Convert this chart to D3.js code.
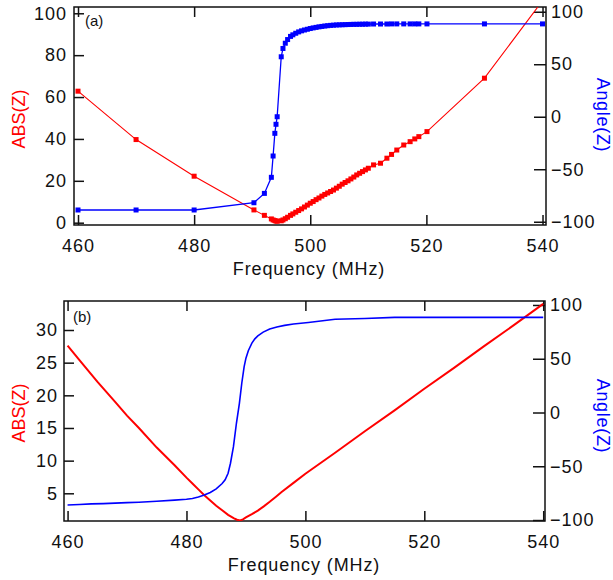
<!DOCTYPE html>
<html>
<head>
<meta charset="utf-8">
<script src="https://cdn.jsdelivr.net/npm/d3@7"></script>
<style>
  html, body { margin: 0; padding: 0; background: #fff; }
  svg { display: block; }
  text { font-family: "Liberation Sans", Arial, sans-serif; }
</style>
</head>
<body>
<svg id="chart" width="613" height="580"></svg>
<script>
// ---------- Panel (a): measured points ----------
const freqA = [460, 470, 480, 490.3, 492.1, 493.3, 493.6, 493.9, 494.1, 494.3,
  495.0, 495.3, 495.7, 496.1, 496.6, 497.0, 497.5,
  498.0, 498.5, 499.0, 499.5, 500.0, 500.5, 501.0, 501.5, 502.0, 502.5, 503.0, 503.5,
  504.0, 504.5, 505.0, 505.5, 506.0, 506.5, 507.0, 507.5, 508.0, 508.5, 509.0, 509.5, 510.0,
  510.9, 512.1, 513.2, 514.0, 514.9, 516.1, 517.2, 518.0, 518.7, 520.1, 530.0, 540.0];
const absA = [62.8, 39.7, 22.2, 6.1, 3.5, 1.8, 1.3, 1.0, 0.8, 0.7,
  0.9, 1.3, 1.9, 2.6, 3.5, 4.2, 5.0,
  5.8, 6.6, 7.5, 8.4, 9.3, 10.1, 11.0, 11.8, 12.7, 13.5, 14.2, 14.9,
  15.6, 16.5, 17.4, 18.4, 19.2, 20.0, 20.9, 21.8, 22.8, 23.6, 24.4, 25.2, 26.0,
  27.6, 28.4, 30.8, 32.6, 34.7, 37.1, 38.7, 40.0, 41.1, 43.5, 69.0, 106.0];
const angA = [-88.8, -88.8, -88.8, -81.9, -73.0, -57.7, -37.4, -15.8, -7.2, 0.0,
  57.1, 65.0, 70.0, 73.5, 76.5, 78.0, 79.5,
  80.8, 81.8, 82.6, 83.3, 84.0, 84.6, 85.1, 85.6, 86.0, 86.4, 86.7, 87.0,
  87.2, 87.4, 87.5, 87.6, 87.7, 87.8, 87.9, 88.0, 88.0, 88.1, 88.1, 88.2, 88.2,
  88.3, 88.3, 88.3, 88.4, 88.4, 88.4, 88.4, 88.4, 88.4, 88.4, 88.4, 88.4];

// ---------- Panel (b): continuous curves ----------
const freqBAbs = [460, 462, 465, 468, 470, 472, 475, 478, 480, 481, 482, 483, 484, 485, 486, 487, 488, 488.5, 489,
  489.5, 490, 491, 492, 493, 494, 495, 496, 498, 500, 505, 510, 515, 520, 525, 530, 535, 540];
const absB = [27.6, 25.4, 22.1, 19.0, 16.9, 15.0, 12.0, 9.3, 7.4, 6.5, 5.6, 4.7, 3.9, 3.1, 2.4, 1.7, 1.15, 0.95, 0.85,
  1.0, 1.3, 1.8, 2.35, 3.0, 3.7, 4.45, 5.2, 6.6, 8.0, 11.2, 14.5, 17.7, 21.0, 24.2, 27.5, 30.7, 34.0];
const freqBAng = [460, 462, 464, 466, 468, 470, 472, 475, 478, 480, 481, 482, 483, 484, 485, 486, 486.5, 487,
  487.4, 487.9, 488.4, 488.9, 489.3, 489.7, 490.0, 490.4, 491.0, 491.5, 492.0, 492.9, 494.0, 495.2, 496.5, 498, 500.5,
  505, 510, 515, 520, 530, 540];
const angB = [-86.0, -85.6, -85.0, -84.7, -84.3, -83.8, -83.4, -82.5, -81.5, -80.7, -80.0, -78.6, -76.8, -74.4, -71.0, -66.0, -62.5, -56.5,
  -47.2, -31.8, -10.0, 8.5, 27.2, 42.6, 50.5, 57.5, 64.5, 68.5, 71.3, 74.8, 77.6, 79.6, 81.0, 82.3, 83.7,
  86.7, 87.4, 88.5, 88.5, 88.5, 88.5];

// ---------- Tick values / labels ----------
const xTicks = [460, 480, 500, 520, 540];
const yTicksAbsA = [0, 20, 40, 60, 80, 100];
const yTicksAbsB = [5, 10, 15, 20, 25, 30];
const yTicksAng = [-100, -50, 0, 50, 100];
const xTitle = "Frequency (MHz)";
const yTitleL = "ABS(Z)";
const yTitleR = "Angle(Z)";
const panelLabels = ["(a)", "(b)"];

const RED = "#ff0000", BLUE = "#0000ff", INK = "#111";
const svg = d3.select("#chart");

function panel(cfg) {
  const { id, left, right, top, bottom, xDom, yLDom, yRDom, yLTicks } = cfg;
  const x = d3.scaleLinear().domain(xDom).range([left, right]);
  const yL = d3.scaleLinear().domain(yLDom).range([bottom, top]);
  const yR = d3.scaleLinear().domain(yRDom).range([bottom, top]);
  const g = svg.append("g");

  g.append("clipPath").attr("id", "clip" + id)
    .append("rect").attr("x", left).attr("y", top)
    .attr("width", right - left).attr("height", bottom - top);

  // axes (ticks point inward)
  const fs = "18px";
  const styleAxis = sel => {
    sel.select(".domain").remove();
    sel.selectAll(".tick line").attr("stroke", INK).attr("stroke-width", 1.5);
    sel.selectAll(".tick text").attr("fill", INK).style("font-size", fs)
      .style("letter-spacing", "1px");
  };
  g.append("g").attr("transform", `translate(0,${bottom})`)
    .call(d3.axisBottom(x).tickValues(xTicks).tickSize(-10).tickSizeOuter(0).tickPadding(cfg.xPad).tickFormat(d3.format("d")))
    .call(styleAxis);
  g.append("g").attr("transform", `translate(0,${top})`)
    .call(d3.axisTop(x).tickValues(xTicks).tickSize(-10).tickSizeOuter(0).tickFormat(""))
    .call(styleAxis);
  g.append("g").attr("transform", `translate(${left},0)`)
    .call(d3.axisLeft(yL).tickValues(yLTicks).tickSize(-10).tickSizeOuter(0).tickPadding(cfg.lPad).tickFormat(d3.format("d")))
    .call(styleAxis);
  g.append("g").attr("transform", `translate(${right},0)`)
    .call(d3.axisRight(yR).tickValues(yTicksAng).tickSize(-12).tickSizeOuter(0).tickPadding(5).tickFormat(d3.format("d")))
    .call(styleAxis);

  // frame
  g.append("rect").attr("x", left).attr("y", top)
    .attr("width", right - left).attr("height", bottom - top)
    .attr("fill", "none").attr("stroke", INK).attr("stroke-width", 1.5);

  const plot = g.append("g").attr("clip-path", `url(#clip${id})`);
  return { g, plot, x, yL, yR };
}

// ---------- Panel (a) ----------
const A = panel({ id: "A", left: 74, right: 546, top: 7, bottom: 225,
  xDom: [459.31, 540.6], yLDom: [-1.1, 103], yRDom: [-103.1, 104.5],
  yLTicks: yTicksAbsA, xPad: 14, lPad: 7 });

const lineAbsA = d3.line().x((d, i) => A.x(freqA[i])).y(d => A.yL(d));
const lineAngA = d3.line().x((d, i) => A.x(freqA[i])).y(d => A.yR(d));
A.plot.append("path").datum(absA).attr("d", lineAbsA)
  .attr("fill", "none").attr("stroke", RED).attr("stroke-width", 1.1);
A.plot.selectAll("rect.ma").data(absA).enter().append("rect").attr("class", "ma")
  .attr("x", (d, i) => A.x(freqA[i]) - 2.5).attr("y", d => A.yL(d) - 2.5)
  .attr("width", 5).attr("height", 5).attr("fill", RED);
A.plot.append("path").datum(angA).attr("d", lineAngA)
  .attr("fill", "none").attr("stroke", BLUE).attr("stroke-width", 1.3);
A.plot.selectAll("rect.mb").data(angA).enter().append("rect").attr("class", "mb")
  .attr("x", (d, i) => A.x(freqA[i]) - 2.5).attr("y", d => A.yR(d) - 2.5)
  .attr("width", 5).attr("height", 5).attr("fill", BLUE);

A.g.append("text").attr("x", 85).attr("y", 26).style("font-size", "15px").attr("fill", INK).text(panelLabels[0]);
A.g.append("text").attr("x", 309).attr("y", 275).attr("text-anchor", "middle")
  .style("font-size", "18px").style("letter-spacing", "0.9px").attr("fill", INK).text(xTitle);
A.g.append("text").attr("transform", "translate(25,119) rotate(-90)").attr("text-anchor", "middle")
  .style("font-size", "18px").attr("fill", RED).text(yTitleL);
A.g.append("text").attr("transform", "translate(597,115) rotate(90)").attr("text-anchor", "middle")
  .style("font-size", "18px").style("letter-spacing", "0.7px").attr("fill", BLUE).text(yTitleR);

// ---------- Panel (b) ----------
const B = panel({ id: "B", left: 64, right: 545, top: 301, bottom: 521,
  xDom: [459.4, 540.3], yLDom: [0.76, 34.44], yRDom: [-100.9, 103.7],
  yLTicks: yTicksAbsB, xPad: 14, lPad: 6 });

B.plot.append("path").datum(absB)
  .attr("d", d3.line().x((d, i) => B.x(freqBAbs[i])).y(d => B.yL(d)))
  .attr("fill", "none").attr("stroke", RED).attr("stroke-width", 2);
B.plot.append("path").datum(angB)
  .attr("d", d3.line().x((d, i) => B.x(freqBAng[i])).y(d => B.yR(d)))
  .attr("fill", "none").attr("stroke", BLUE).attr("stroke-width", 1.6);

B.g.append("text").attr("x", 73).attr("y", 321.5).style("font-size", "15px").attr("fill", INK).text(panelLabels[1]);
B.g.append("text").attr("x", 304).attr("y", 571).attr("text-anchor", "middle")
  .style("font-size", "18px").style("letter-spacing", "0.9px").attr("fill", INK).text(xTitle);
B.g.append("text").attr("transform", "translate(25,413) rotate(-90)").attr("text-anchor", "middle")
  .style("font-size", "18px").attr("fill", RED).text(yTitleL);
B.g.append("text").attr("transform", "translate(597,416) rotate(90)").attr("text-anchor", "middle")
  .style("font-size", "18px").style("letter-spacing", "0.7px").attr("fill", BLUE).text(yTitleR);
</script>
</body>
</html>
